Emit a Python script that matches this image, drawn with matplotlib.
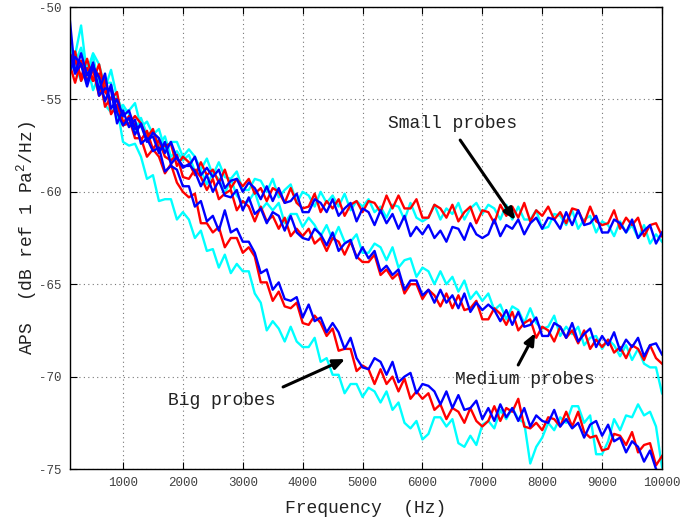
import numpy as np
import matplotlib
matplotlib.use('Agg')
import matplotlib.pyplot as plt

plt.rcParams['font.family'] = ['Liberation Mono', 'DejaVu Sans Mono']
plt.rcParams['mathtext.fontset'] = 'custom'
plt.rcParams['mathtext.rm'] = 'Liberation Mono'
plt.rcParams['axes.unicode_minus'] = False

# frequency grid (Hz)
freq = np.arange(100, 10001, 100)

# spectra, dB ref 1 Pa^2/Hz
small_cyan = [
    -51.9, -53.0, -52.2, -53.5, -52.5, -53.1, -54.4, -53.4, -54.9, -55.6,
    -55.6, -55.2, -56.5, -56.2, -56.9, -56.6, -57.7, -57.3, -57.3, -58.1,
    -57.7, -58.1, -58.8, -58.2, -59.1, -58.4, -59.2, -59.3, -58.9, -59.9,
    -59.9, -59.3, -59.4, -60.0, -59.3, -60.3, -59.9, -59.6, -60.6, -60.0,
    -60.2, -60.8, -60.0, -60.6, -60.2, -60.8, -60.1, -61.0, -60.5, -60.8,
    -60.4, -61.1, -60.8, -61.4, -60.7, -60.8, -61.5, -60.6, -61.4, -61.6,
    -61.4, -60.7, -61.5, -60.9, -61.2, -60.6, -61.5, -60.9, -60.6, -61.2,
    -60.7, -60.9, -61.5, -60.7, -61.5, -60.8, -61.5, -61.5, -61.0, -62.0,
    -61.9, -61.2, -61.3, -61.8, -61.0, -62.0, -61.5, -61.3, -62.2, -61.6,
    -61.8, -62.4, -61.6, -62.2, -61.8, -62.5, -61.8, -62.8, -62.3, -62.7]
small_red = [
    -52.5, -52.9, -53.8, -52.8, -54.0, -53.1, -54.6, -55.0, -54.6, -56.4,
    -56.3, -55.9, -56.3, -57.1, -56.6, -57.7, -57.5, -57.4, -58.6, -58.1,
    -58.4, -59.1, -58.4, -59.1, -58.8, -59.5, -58.8, -59.8, -59.3, -59.7,
    -59.3, -60.1, -59.8, -60.5, -59.8, -60.0, -60.6, -59.8, -60.6, -60.9,
    -60.8, -60.1, -61.1, -60.5, -60.9, -60.4, -61.3, -60.7, -60.5, -61.1,
    -60.5, -60.6, -61.1, -60.2, -60.9, -60.2, -60.9, -60.9, -60.4, -61.4,
    -61.4, -60.7, -60.9, -61.4, -60.7, -61.6, -61.1, -60.8, -61.7, -61.0,
    -61.1, -61.7, -60.7, -61.3, -60.8, -61.4, -60.6, -61.6, -61.0, -61.3,
    -60.8, -61.5, -61.1, -61.7, -60.9, -61.0, -61.7, -60.8, -61.6, -61.8,
    -61.7, -61.0, -62.0, -61.4, -61.8, -61.4, -62.4, -61.8, -61.7, -62.4]
small_blue = [
    -50.3, -53.6, -52.5, -53.7, -53.1, -54.5, -53.6, -55.5, -55.0, -55.9,
    -55.6, -56.6, -56.4, -57.3, -56.8, -57.1, -57.9, -57.3, -58.2, -58.6,
    -58.6, -58.1, -59.1, -58.7, -59.2, -58.8, -59.8, -59.4, -59.3, -60.0,
    -59.5, -59.8, -60.4, -59.7, -60.5, -59.8, -60.6, -60.5, -60.1, -61.1,
    -61.1, -60.4, -60.6, -61.1, -60.4, -61.3, -60.9, -60.6, -61.6, -60.9,
    -61.1, -61.8, -61.0, -61.7, -61.2, -62.0, -61.3, -62.4, -61.9, -62.3,
    -61.8, -62.5, -62.1, -62.7, -61.9, -62.0, -62.6, -61.7, -62.3, -62.5,
    -62.3, -61.5, -62.4, -61.8, -62.0, -61.5, -62.3, -61.7, -61.4, -62.0,
    -61.4, -61.5, -62.0, -61.1, -61.8, -61.0, -61.8, -61.7, -61.3, -62.2,
    -62.2, -61.5, -61.7, -62.2, -61.5, -62.5, -62.1, -61.8, -62.8, -62.2]

medium_cyan = [
    -53.8, -52.6, -51.0, -53.7, -52.6, -54.4, -54.1, -54.1, -56.0, -55.3,
    -55.8, -56.7, -56.0, -56.9, -56.7, -57.5, -57.0, -58.1, -57.8, -58.3,
    -58.0, -58.9, -58.8, -59.6, -59.0, -59.3, -60.1, -59.3, -60.2, -60.6,
    -60.5, -60.0, -61.0, -60.6, -61.0, -60.6, -61.7, -61.2, -61.2, -61.9,
    -61.4, -61.8, -62.4, -61.8, -62.6, -61.9, -62.7, -62.7, -62.3, -63.3,
    -63.3, -62.8, -63.0, -63.7, -63.0, -64.1, -63.7, -63.6, -64.6, -64.1,
    -64.3, -65.0, -64.3, -65.0, -64.6, -65.4, -64.8, -65.8, -65.4, -65.9,
    -65.5, -66.4, -66.1, -66.9, -66.2, -66.4, -67.1, -66.3, -67.1, -67.4,
    -67.3, -66.7, -67.8, -67.3, -67.7, -67.3, -68.3, -67.9, -67.8, -68.5,
    -68.0, -68.3, -68.9, -68.3, -69.1, -68.5, -69.3, -69.5, -69.5, -70.9]
medium_red = [
    -53.3, -52.4, -54.0, -53.3, -54.0, -53.6, -55.4, -54.9, -55.0, -56.4,
    -55.9, -56.4, -57.2, -56.7, -57.7, -57.2, -58.1, -58.3, -58.0, -59.2,
    -59.3, -58.8, -59.2, -59.9, -59.3, -60.4, -60.1, -59.9, -61.0, -60.5,
    -60.8, -61.6, -60.8, -61.6, -61.3, -62.0, -61.4, -62.4, -62.0, -62.4,
    -62.0, -62.8, -62.5, -63.2, -62.5, -62.7, -63.4, -62.7, -63.5, -63.8,
    -63.8, -63.4, -64.5, -64.2, -64.7, -64.4, -65.5, -65.0, -65.0, -65.8,
    -65.3, -65.6, -66.2, -65.5, -66.3, -65.6, -66.4, -66.3, -65.9, -66.9,
    -66.9, -66.3, -66.6, -67.2, -66.5, -67.5, -67.1, -66.9, -67.9, -67.3,
    -67.5, -68.1, -67.3, -67.9, -67.5, -68.2, -67.5, -68.5, -68.0, -68.4,
    -68.0, -68.7, -68.4, -69.0, -68.3, -68.5, -69.1, -68.3, -69.0, -69.3]
medium_blue = [
    -52.3, -53.6, -53.1, -54.3, -53.2, -53.8, -55.1, -54.2, -55.7, -56.4,
    -56.0, -56.9, -56.3, -57.2, -57.0, -57.9, -57.3, -58.5, -58.1, -58.7,
    -58.5, -58.9, -59.7, -59.1, -60.0, -59.4, -60.2, -60.3, -59.9, -61.0,
    -60.3, -61.2, -60.9, -61.7, -61.1, -61.3, -62.1, -61.3, -62.2, -62.5,
    -62.6, -62.0, -62.3, -62.9, -62.2, -63.2, -62.8, -62.6, -63.6, -63.0,
    -63.6, -63.2, -64.3, -64.0, -64.5, -64.2, -65.3, -64.8, -64.8, -65.6,
    -65.3, -66.0, -65.3, -66.0, -65.6, -66.3, -65.5, -66.5, -66.0, -66.4,
    -66.1, -66.4, -67.0, -66.4, -67.2, -66.5, -67.3, -67.2, -66.8, -67.8,
    -67.8, -67.1, -67.3, -67.9, -67.1, -68.1, -67.7, -67.4, -68.4, -67.8,
    -68.3, -67.6, -68.6, -68.0, -68.4, -67.9, -68.9, -68.3, -68.2, -68.8]

big_cyan = [
    -52.9, -53.1, -54.0, -53.1, -54.5, -53.7, -55.3, -55.7, -55.4, -57.3,
    -57.5, -57.4, -58.1, -59.3, -59.1, -60.5, -60.4, -60.4, -61.5, -61.1,
    -61.5, -62.5, -62.1, -63.2, -63.1, -64.1, -63.4, -64.4, -63.9, -64.3,
    -64.3, -65.5, -66.0, -67.5, -67.0, -67.4, -68.1, -67.3, -68.1, -68.4,
    -68.4, -67.9, -69.2, -69.0, -69.9, -69.9, -70.9, -70.4, -70.4, -71.1,
    -70.6, -70.8, -71.4, -70.8, -71.8, -71.4, -72.5, -72.8, -72.4, -73.4,
    -73.1, -72.2, -72.2, -72.7, -72.3, -73.6, -73.8, -73.2, -73.7, -72.6,
    -72.4, -72.8, -71.8, -72.3, -71.7, -72.3, -72.5, -74.7, -73.8, -73.3,
    -72.5, -72.9, -72.2, -72.5, -71.6, -71.6, -72.5, -72.1, -74.2, -74.2,
    -73.5, -72.3, -72.9, -72.1, -72.2, -71.5, -72.1, -71.9, -72.7, -74.9]
big_red = [
    -53.0, -54.1, -52.9, -54.0, -53.4, -54.8, -53.9, -55.8, -55.3, -56.2,
    -56.0, -57.1, -57.1, -58.1, -57.7, -58.1, -59.0, -58.5, -59.5, -60.0,
    -60.3, -60.1, -61.7, -61.7, -62.2, -61.9, -63.0, -62.5, -62.5, -63.3,
    -63.0, -63.5, -64.9, -64.9, -65.9, -65.4, -66.2, -66.3, -66.0, -67.1,
    -67.2, -66.7, -67.1, -67.8, -67.4, -68.6, -68.5, -68.5, -69.7, -69.4,
    -69.6, -70.4, -69.6, -70.4, -70.0, -70.8, -70.1, -71.2, -70.8, -71.2,
    -70.9, -71.8, -71.5, -72.3, -71.7, -71.9, -72.5, -71.7, -72.4, -72.7,
    -72.4, -71.6, -72.4, -71.7, -71.9, -71.2, -72.7, -72.8, -72.5, -72.9,
    -72.2, -72.3, -72.7, -71.9, -72.7, -71.9, -73.0, -73.3, -73.2, -74.0,
    -73.9, -73.1, -73.2, -73.7, -73.0, -74.1, -73.7, -73.6, -74.8, -74.3]
big_blue = [
    -53.6, -52.7, -53.1, -54.1, -53.0, -54.8, -54.4, -54.5, -56.3, -55.6,
    -56.5, -56.1, -57.4, -57.1, -57.8, -57.6, -58.9, -58.6, -58.8, -59.7,
    -59.7, -60.8, -60.5, -61.6, -61.3, -62.1, -61.0, -62.2, -62.0, -62.7,
    -62.7, -63.3, -64.4, -64.2, -65.3, -64.9, -65.8, -65.9, -65.7, -66.8,
    -66.1, -67.0, -66.8, -67.6, -67.1, -67.6, -68.5, -67.9, -69.0, -69.5,
    -69.6, -69.0, -69.2, -69.9, -69.2, -70.3, -70.0, -69.8, -70.9, -70.4,
    -70.5, -70.8, -71.5, -70.8, -71.7, -71.0, -71.8, -71.7, -71.3, -72.3,
    -71.7, -72.4, -71.5, -72.2, -71.7, -72.4, -71.7, -72.7, -72.1, -72.4,
    -72.5, -71.8, -72.7, -72.3, -72.8, -72.5, -73.3, -72.6, -72.4, -73.2,
    -72.6, -73.5, -73.3, -74.1, -73.5, -73.8, -74.6, -74.0, -75.0, -75.4]

fig = plt.figure(figsize=(6.81, 5.19), dpi=100)
ax = fig.add_axes([0.1028, 0.0963, 0.8693, 0.8902])

# cyan first, then red, blue on top
for y in (small_cyan, medium_cyan, big_cyan):
    ax.plot(freq, y, color='#00ffff', lw=1.7)
for y in (small_red, medium_red, big_red):
    ax.plot(freq, y, color='#ff0000', lw=1.7)
for y in (small_blue, medium_blue, big_blue):
    ax.plot(freq, y, color='#0000ff', lw=1.7)

ax.set_xlim(115, 10000)
ax.set_ylim(-75, -50)
ax.set_xticks(range(1000, 10001, 1000))
ax.set_yticks(range(-75, -49, 5))
ax.grid(True, linestyle=(0, (1, 3)), color='#777777', lw=0.8)
ax.tick_params(direction='in', top=True, right=True, length=5, width=0.8,
               labelsize=9, labelcolor='#404040', pad=6)
for s in ax.spines.values():
    s.set_linewidth(1.0)

ax.set_xlabel('Frequency  (Hz)', fontsize=13, labelpad=8, color='#222222')
ax.set_ylabel('APS  (dB ref 1 Pa$^\\mathregular{2}$/Hz)', fontsize=13,
              labelpad=0, color='#222222')

arrow = dict(arrowstyle='-|>,head_length=0.7,head_width=0.3', lw=2.2,
             color='k', shrinkA=0, shrinkB=0)
ax.text(6497, -56.33, 'Small probes', fontsize=13, ha='center', va='center', color='#222222')
ax.annotate('', xy=(7549, -61.53), xytext=(6630, -57.20), arrowprops=arrow)
ax.text(7716, -70.18, 'Medium probes', fontsize=13, ha='center', va='center', color='#222222')
ax.annotate('', xy=(7883, -67.64), xytext=(7599, -69.37), arrowprops=arrow)
ax.text(2654, -71.27, 'Big probes', fontsize=13, ha='center', va='center', color='#222222')
ax.annotate('', xy=(4709, -69.05), xytext=(3673, -70.56), arrowprops=arrow)

fig.savefig('out.png', dpi=100)
